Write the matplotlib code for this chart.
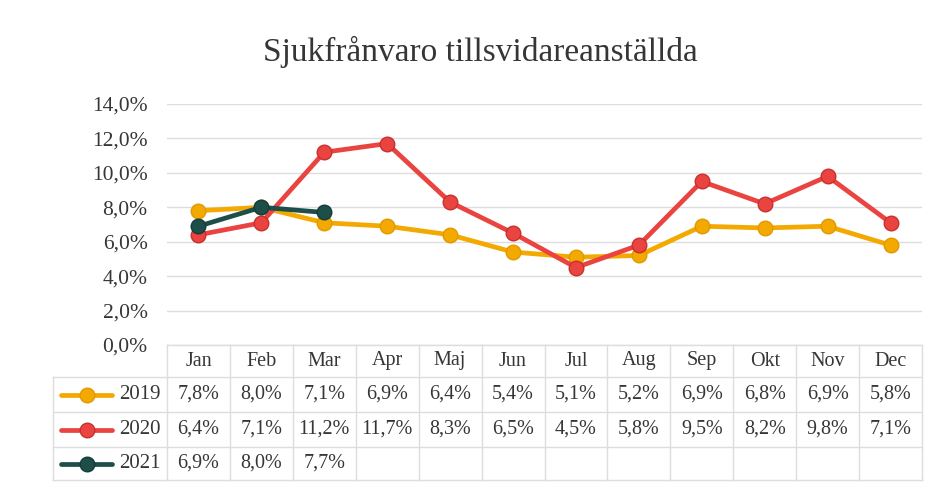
import matplotlib
matplotlib.use("Agg")
import matplotlib.pyplot as plt
from matplotlib.lines import Line2D
from matplotlib.ticker import FuncFormatter
import matplotlib.transforms as mtransforms

months = ["Jan", "Feb", "Mar", "Apr", "Maj", "Jun", "Jul", "Aug", "Sep", "Okt", "Nov", "Dec"]
series_names = ["2019", "2020", "2021"]
v2019 = [7.8, 8.0, 7.1, 6.9, 6.4, 5.4, 5.1, 5.2, 6.9, 6.8, 6.9, 5.8]
v2020 = [6.4, 7.1, 11.2, 11.7, 8.3, 6.5, 4.5, 5.8, 9.5, 8.2, 9.8, 7.1]
v2021 = [6.9, 8.0, 7.7]
yticks = [0, 2, 4, 6, 8, 10, 12, 14]
title = "Sjukfrånvaro tillsvidareanställda"

colors = ["#F4A900", "#E9443F", "#1D4E4A"]
edges = ["#E09A00", "#C8302E", "#163C39"]
series = [v2019, v2020, v2021]

plt.rcParams['font.family'] = ['Liberation Serif', 'DejaVu Serif']
txt = "#363636"
grid = "#DDDDDD"

W, H = 935, 488
fig = plt.figure(figsize=(W / 100, H / 100), dpi=100)
fig.patch.set_facecolor("white")

def fy(ypx):
    return 1 - ypx / H

def fx(xpx):
    return xpx / W

ax_left, ax_right, ax_top, ax_bottom = 167, 922, 104, 345
ax = fig.add_axes([fx(ax_left), fy(ax_bottom), (ax_right - ax_left) / W, (ax_bottom - ax_top) / H])
ax.set_xlim(-0.5, len(months) - 0.5)
ax.set_ylim(0, 14)
ax.set_yticks(yticks)
ax.yaxis.set_major_formatter(FuncFormatter(lambda v, p: f"{v:.1f}%".replace(".", ",")))
ax.tick_params(axis="y", length=0, pad=14, labelsize=15.5, labelcolor=txt)
ax.set_xticks([])
for s in ax.spines.values():
    s.set_visible(False)
ax.grid(axis="y", color=grid, linewidth=1)
ax.set_axisbelow(True)

for vals, c, e in zip(series, colors, edges):
    ax.plot(range(len(vals)), vals, color=c, linewidth=3.4, marker="o", markersize=10.5,
            markerfacecolor=c, markeredgecolor=e, markeredgewidth=1, solid_capstyle="round",
            clip_on=False, zorder=3)

fig.text(fx(480), fy(52), title, ha="center", va="center", fontsize=24, color=txt)

# Data table
blend = mtransforms.blended_transform_factory(ax.transData, fig.transFigure)
row_y = [345, 377, 412, 447, 480]
x0, x1 = -0.5, len(months) - 0.5
lab_left = 53

fig.add_artist(Line2D([x0, x1], [fy(row_y[0])] * 2, transform=blend, color=grid, lw=1))
for y in row_y[1:]:
    fig.add_artist(Line2D([fx(lab_left), fx(ax_right)], [fy(y)] * 2, transform=fig.transFigure, color=grid, lw=1))
for i in range(len(months) + 1):
    fig.add_artist(Line2D([x0 + i] * 2, [fy(row_y[0]), fy(row_y[-1])], transform=blend, color=grid, lw=1))
fig.add_artist(Line2D([fx(lab_left)] * 2, [fy(row_y[1]), fy(row_y[-1])], transform=fig.transFigure, color=grid, lw=1))

hy = fy((row_y[0] + row_y[1]) / 2)
for i, m in enumerate(months):
    fig.text(i, hy, m, transform=blend, ha="center", va="center", fontsize=14.5, color=txt)

for r, (name, vals, c, e) in enumerate(zip(series_names, series, colors, edges)):
    yc = fy((row_y[r + 1] + row_y[r + 2]) / 2)
    fig.add_artist(Line2D([fx(61), fx(112)], [yc, yc], transform=fig.transFigure, color=c, lw=3.4,
                          solid_capstyle="round"))
    fig.add_artist(Line2D([fx(86.5)], [yc], transform=fig.transFigure, marker="o", markersize=10.5,
                          markerfacecolor=c, markeredgecolor=e, markeredgewidth=1, linestyle="none"))
    fig.text(fx(161), yc, name, ha="right", va="center", fontsize=15, color=txt)
    for i, v in enumerate(vals):
        fig.text(i, yc, f"{v:.1f}%".replace(".", ","), transform=blend, ha="center", va="center",
                 fontsize=14.5, color=txt)

fig.savefig("out.png", dpi=100, facecolor="white")
